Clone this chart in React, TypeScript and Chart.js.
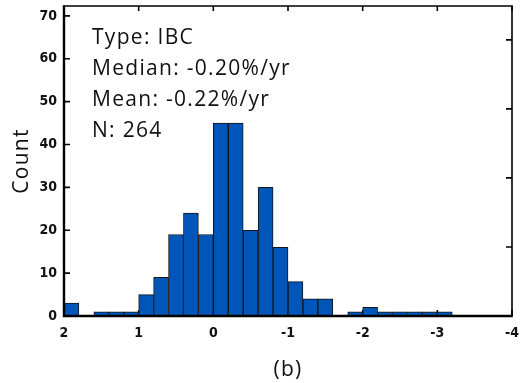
import React, { useEffect, useRef } from "react";
import { Chart, registerables } from "chart.js";

Chart.register(...registerables);

// Histogram bins (bin centres, %/yr) and counts
const binCenters = [1.9, 1.7, 1.5, 1.3, 1.1, 0.9, 0.7, 0.5, 0.3, 0.1, -0.1, -0.3, -0.5, -0.7, -0.9, -1.1, -1.3, -1.5, -1.7, -1.9, -2.1, -2.3, -2.5, -2.7, -2.9, -3.1];
const counts = [3, 0, 1, 1, 1, 5, 9, 19, 24, 19, 45, 45, 20, 30, 16, 8, 4, 4, 0, 1, 2, 1, 1, 1, 1, 1];

const xTickValues = [2, 1, 0, -1, -2, -3, -4];
const yTickValues = [0, 10, 20, 30, 40, 50, 60, 70];
const y2TickValues = [0, 1, 2, 3, 4];

const annotationLines = ["Type: IBC", "Median: -0.20%/yr", "Mean: -0.22%/yr", "N: 264"];
const yTitle = "Count";
const panelLabel = "(b)";

const tickFont = "'Liberation Sans Narrow', 'DejaVu Sans Condensed', sans-serif";
const textFont = "'Open Sans', 'DejaVu Sans', sans-serif";

const zeroPad = (s: any) => {
  s.paddingLeft = 0;
  s.paddingRight = 0;
  s.paddingTop = 0;
  s.paddingBottom = 0;
};

const framePlugin = {
  id: "framePlugin",
  beforeDatasetsDraw(chart: any) {
    const { ctx, chartArea: a, scales } = chart;
    ctx.save();
    ctx.strokeStyle = "#000";
    ctx.lineWidth = 1.6;
    ctx.beginPath();
    yTickValues.forEach((v) => {
      const y = scales.y.getPixelForValue(v);
      ctx.moveTo(a.left, y);
      ctx.lineTo(a.left + 6, y);
    });
    y2TickValues.forEach((v) => {
      const y = scales.y2.getPixelForValue(v);
      ctx.moveTo(a.right, y);
      ctx.lineTo(a.right - 6, y);
    });
    xTickValues.forEach((v) => {
      const x = scales.x.getPixelForValue(v);
      ctx.moveTo(x, a.top);
      ctx.lineTo(x, a.top + 5);
      ctx.moveTo(x, a.bottom);
      ctx.lineTo(x, a.bottom - 6);
    });
    ctx.stroke();
    ctx.restore();
  },
  afterDatasetsDraw(chart: any) {
    const { ctx, chartArea: a } = chart;
    ctx.save();
    ctx.strokeStyle = "#000";
    ctx.lineWidth = 1.6;
    ctx.beginPath();
    ctx.moveTo(a.left, a.top);
    ctx.lineTo(a.right, a.top);
    ctx.lineTo(a.right, a.bottom);
    ctx.stroke();
    ctx.lineWidth = 2.4;
    ctx.beginPath();
    ctx.moveTo(a.left, a.top - 0.8);
    ctx.lineTo(a.left, a.bottom);
    ctx.lineTo(a.right + 0.8, a.bottom);
    ctx.stroke();
    ctx.restore();
  },
  afterDraw(chart: any) {
    const { ctx, chartArea: a } = chart;
    ctx.save();
    ctx.fillStyle = "#111";
    ctx.font = `21px ${textFont}`;
    try {
      (ctx as any).letterSpacing = "1.3px";
    } catch (e) {}
    ctx.textAlign = "left";
    ctx.textBaseline = "alphabetic";
    annotationLines.forEach((t, i) => {
      ctx.fillText(t, 92, 43.5 + i * 31.3);
    });
    ctx.save();
    ctx.translate(22, (a.top + a.bottom) / 2);
    ctx.rotate(-Math.PI / 2);
    ctx.textAlign = "center";
    ctx.textBaseline = "middle";
    ctx.fillText(yTitle, 0, 0);
    ctx.restore();
    ctx.textAlign = "center";
    ctx.textBaseline = "middle";
    ctx.fillText(panelLabel, 288, 370);
    ctx.restore();
  },
};

export default function App() {
  const ref = useRef<HTMLCanvasElement | null>(null);
  useEffect(() => {
    if (!ref.current) return;
    const chart = new Chart(ref.current, {
      type: "bar",
      data: {
        datasets: [
          {
            data: binCenters.map((x, i) => ({ x, y: counts[i] })),
            backgroundColor: "#0055b8",
            borderColor: "#151515",
            borderWidth: 1,
            barPercentage: 1,
            categoryPercentage: 1,
          },
        ],
      },
      options: {
        responsive: false,
        animation: false,
        events: [],
        layout: { padding: { left: 0, right: 9, top: 6, bottom: 0 } },
        plugins: { legend: { display: false }, tooltip: { enabled: false } },
        scales: {
          x: {
            type: "linear",
            position: "bottom",
            min: -4,
            max: 2,
            reverse: true,
            offset: false,
            grid: { display: false, drawTicks: false },
            border: { display: false },
            afterBuildTicks: (s: any) => {
              s.ticks = xTickValues.map((v) => ({ value: v }));
            },
            afterFit: (s: any) => {
              s.height = 67;
              zeroPad(s);
            },
            ticks: {
              padding: 9,
              color: "#111",
              maxRotation: 0,
              autoSkip: false,
              font: { family: tickFont, size: 14, weight: "bold" },
              callback: (v: any) => String(v),
            },
          },
          y: {
            type: "linear",
            position: "left",
            min: 0,
            max: 72.3,
            grid: { display: false, drawTicks: false },
            border: { display: false },
            afterBuildTicks: (s: any) => {
              s.ticks = yTickValues.map((v) => ({ value: v }));
            },
            afterFit: (s: any) => {
              s.width = 64;
              zeroPad(s);
            },
            ticks: {
              padding: 7,
              color: "#111",
              font: { family: tickFont, size: 14, weight: "bold" },
              callback: (v: any) => String(v),
            },
          },
          y2: {
            type: "linear",
            position: "right",
            min: 0,
            max: 4.49,
            grid: { display: false, drawTicks: false },
            border: { display: false },
            ticks: { display: false },
            afterFit: (s: any) => {
              s.width = 0;
              zeroPad(s);
            },
          },
        },
      },
      plugins: [framePlugin],
    } as any);
    return () => chart.destroy();
  }, []);
  return (
    <div style={{ position: "absolute", left: 0, top: 0, width: 521, height: 383, background: "#fff" }}>
      <canvas ref={ref} width={521} height={383} style={{ display: "block" }} />
    </div>
  );
}
